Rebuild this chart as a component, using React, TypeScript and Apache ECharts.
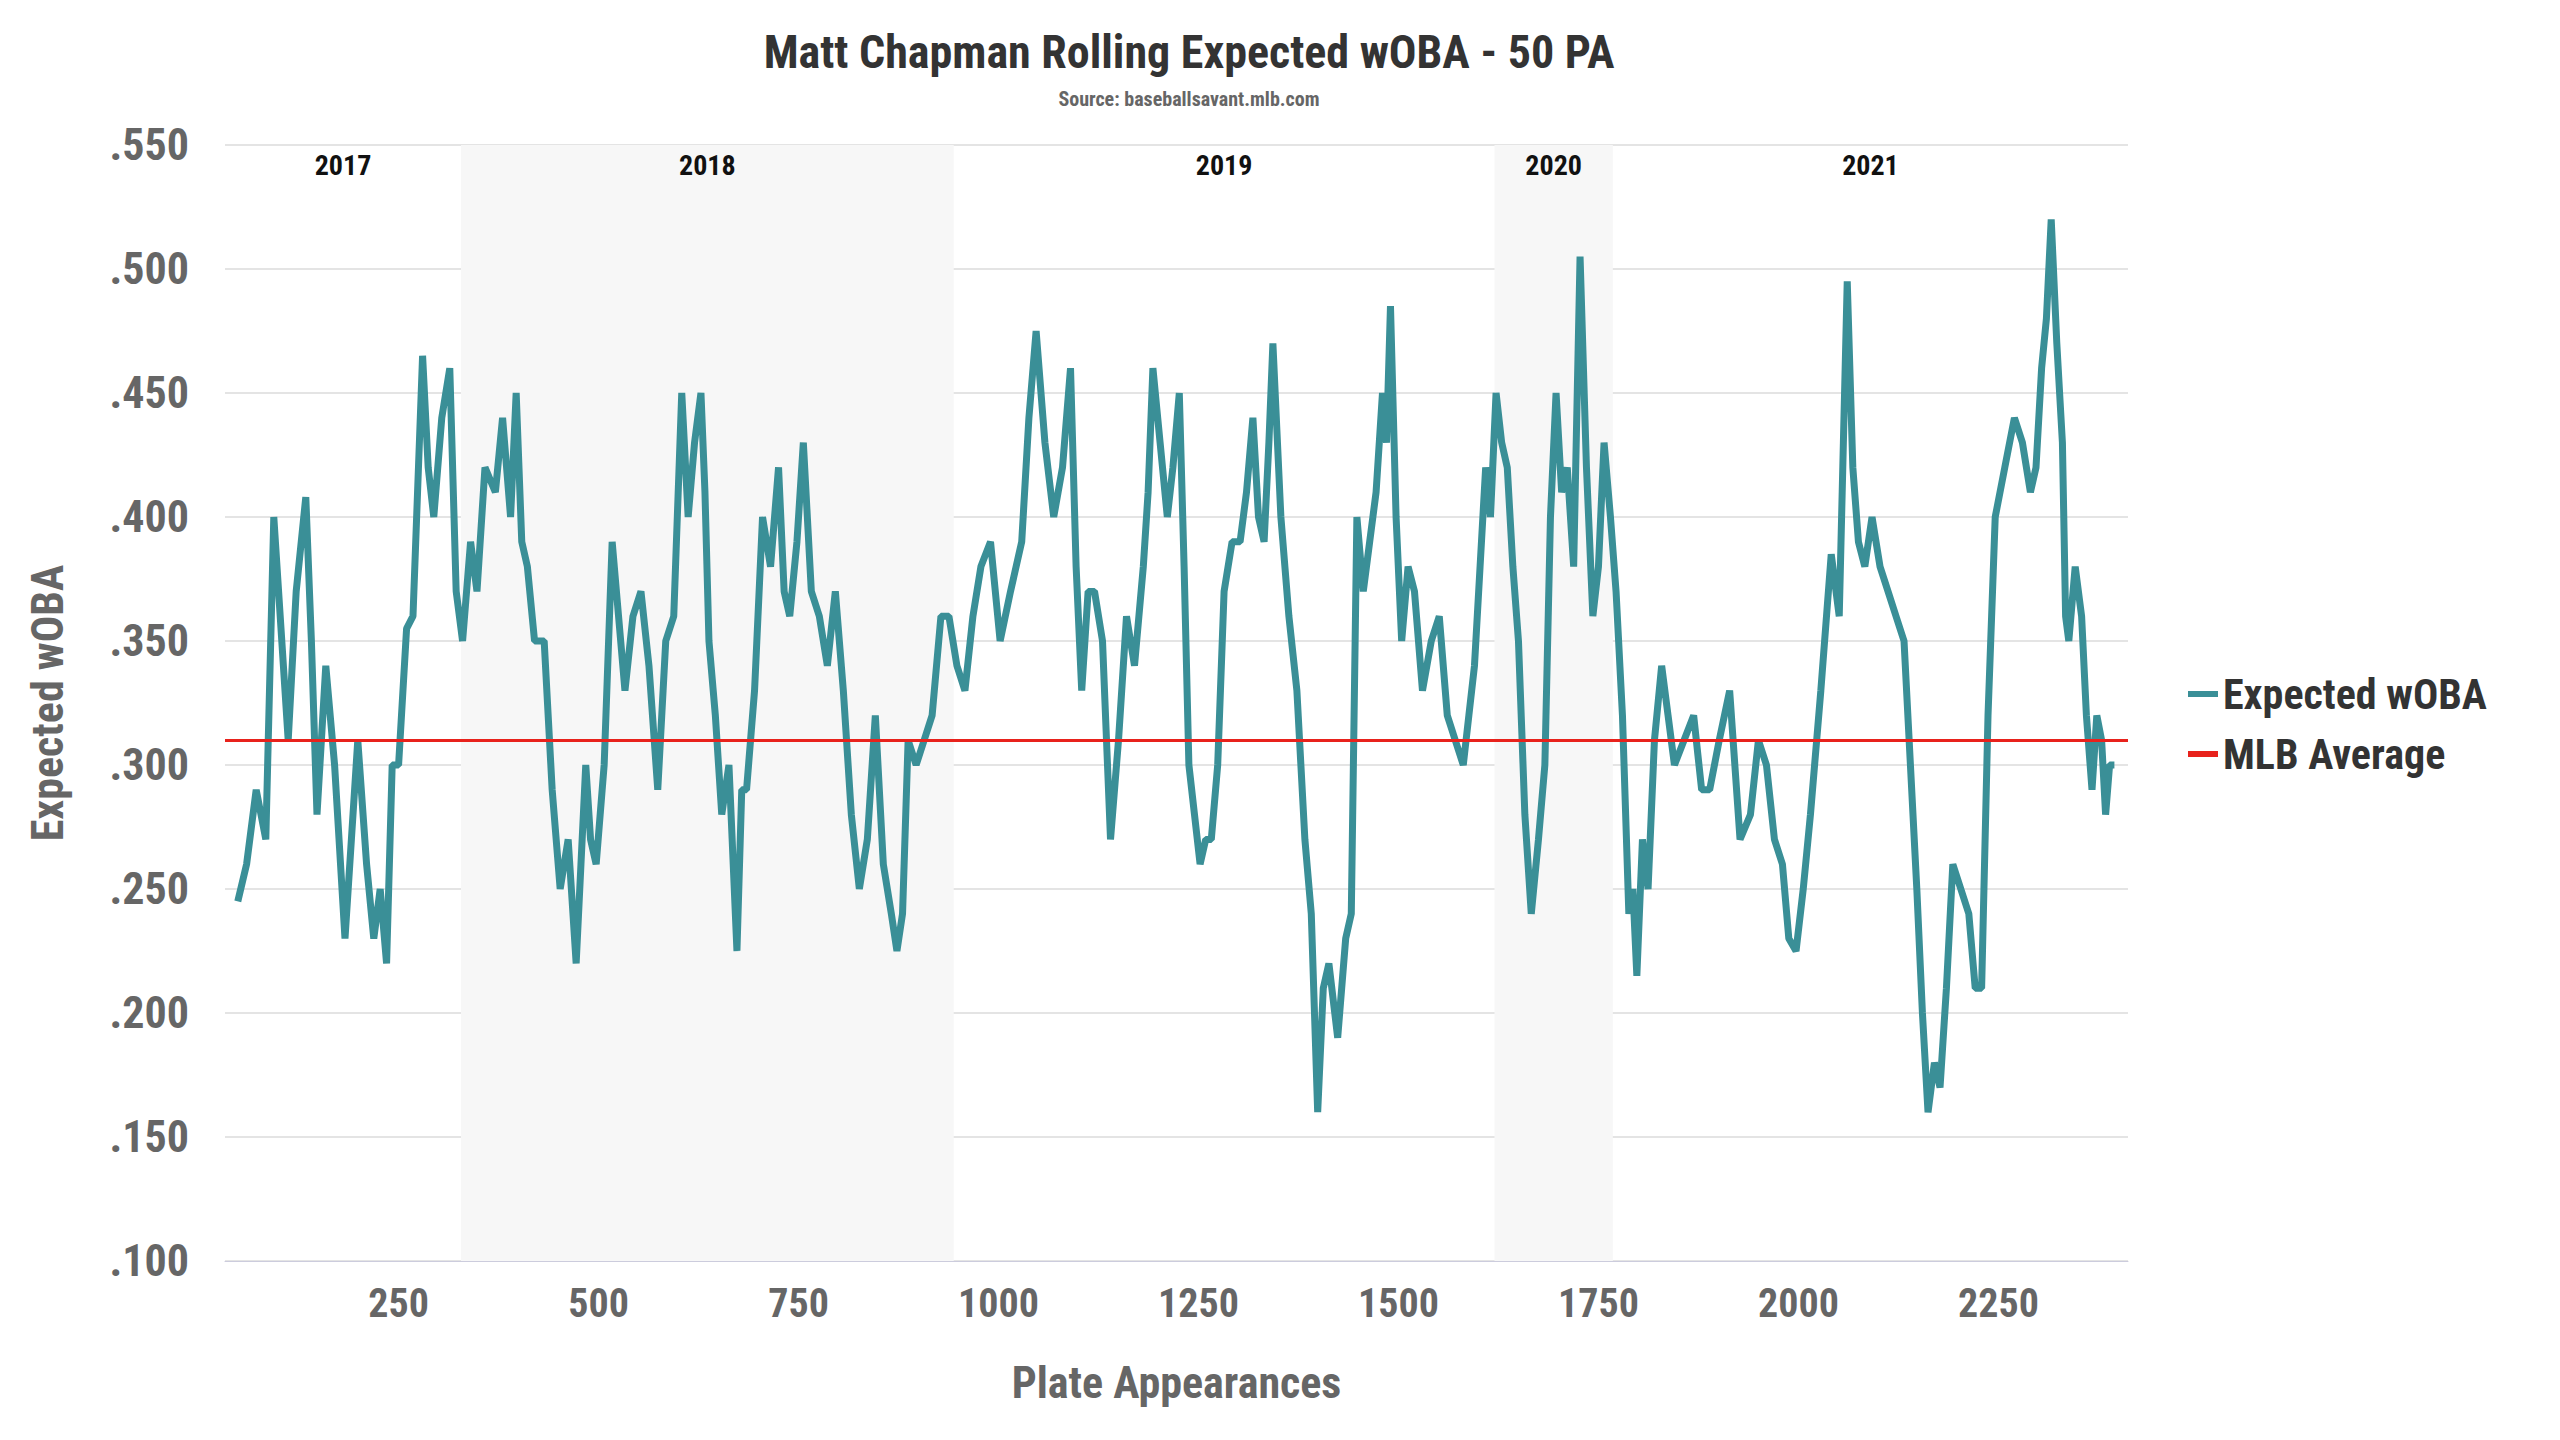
import React, { useEffect, useRef } from "react";
import * as echarts from "echarts";

const paValues = [49,60,72,84,94,104,112,122,134,141,148,159,170,183,191,199,210,219,227,235,242,250,260,268,280,287,294,304,314,322,330,340,348,358,371,380,390,397,404,411,420,432,442,452,462,472,478,484,490,497,507,517,525,533,543,553,563,574,584,594,604,612,620,628,633,638,646,654,663,673,679,685,695,705,715,725,732,739,748,756,766,776,786,796,806,816,826,836,846,856,866,873,880,887,897,907,917,928,938,948,958,968,978,990,1002,1015,1029,1038,1047,1058,1069,1080,1090,1097,1104,1112,1120,1130,1140,1150,1160,1170,1181,1187,1193,1202,1211,1218,1226,1232,1238,1245,1252,1259,1266,1274,1282,1292,1302,1310,1318,1325,1332,1338,1343,1353,1363,1373,1383,1391,1399,1406,1413,1424,1434,1441,1448,1456,1464,1472,1480,1485,1490,1497,1504,1512,1520,1530,1541,1551,1561,1571,1581,1588,1595,1602,1609,1615,1622,1629,1636,1643,1650,1658,1666,1675,1683,1690,1697,1704,1711,1719,1727,1735,1743,1750,1757,1765,1772,1780,1788,1793,1798,1805,1812,1820,1829,1837,1845,1857,1869,1879,1889,1901,1914,1927,1940,1950,1960,1970,1980,1988,1997,2006,2015,2028,2041,2051,2061,2068,2075,2083,2092,2102,2112,2122,2132,2140,2148,2155,2162,2170,2177,2185,2193,2203,2213,2221,2229,2237,2246,2258,2270,2280,2290,2297,2304,2310,2316,2323,2330,2334,2338,2346,2354,2360,2367,2373,2379,2384,2389,2395,2400];
const xwobaValues = [.245,.26,.29,.27,.40,.35,.31,.37,.408,.35,.28,.34,.30,.23,.27,.31,.26,.23,.25,.22,.30,.30,.355,.36,.465,.42,.40,.44,.46,.37,.35,.39,.37,.42,.41,.44,.40,.45,.39,.38,.35,.35,.29,.25,.27,.22,.26,.30,.27,.26,.30,.39,.36,.33,.36,.37,.34,.29,.35,.36,.45,.40,.43,.45,.41,.35,.32,.28,.30,.225,.29,.29,.33,.40,.38,.42,.37,.36,.39,.43,.37,.36,.34,.37,.33,.28,.25,.27,.32,.26,.24,.225,.24,.31,.30,.31,.32,.36,.36,.34,.33,.36,.38,.39,.35,.37,.39,.44,.475,.43,.40,.42,.46,.38,.33,.37,.37,.35,.27,.31,.36,.34,.38,.41,.46,.43,.40,.42,.45,.38,.30,.28,.26,.27,.27,.30,.37,.39,.39,.41,.44,.40,.39,.43,.47,.40,.36,.33,.27,.24,.16,.21,.22,.19,.23,.24,.40,.37,.39,.41,.45,.43,.485,.40,.35,.38,.37,.33,.35,.36,.32,.31,.30,.32,.34,.38,.42,.40,.45,.43,.42,.38,.35,.28,.24,.27,.30,.40,.45,.41,.42,.38,.505,.42,.36,.38,.43,.40,.37,.32,.24,.25,.215,.27,.25,.31,.34,.32,.30,.31,.32,.29,.29,.31,.33,.27,.28,.31,.30,.27,.26,.23,.225,.25,.28,.33,.385,.36,.495,.42,.39,.38,.40,.38,.37,.36,.35,.30,.25,.20,.16,.18,.17,.21,.26,.25,.24,.21,.21,.32,.40,.42,.44,.43,.41,.42,.46,.48,.52,.47,.43,.36,.35,.38,.36,.32,.29,.32,.31,.28,.30,.30];

const yearLabels = ["2017", "2018", "2019", "2020", "2021"];
const yearStarts = [33, 328, 944, 1620, 1768];
const yearEnds = [328, 944, 1620, 1768, 2412];
const yearShaded = [false, true, false, true, false];
const xTicks = [250, 500, 750, 1000, 1250, 1500, 1750, 2000, 2250];
const mlbAverage = 0.31;

const FONT = "'Roboto Condensed', 'Liberation Sans Narrow', 'Roboto', sans-serif";

export default function App() {
  const ref = useRef<HTMLDivElement>(null);
  useEffect(() => {
    const chart = echarts.init(ref.current!, null, { renderer: "svg" });
    const data = paValues.map((p, i) => [p, xwobaValues[i]]);
    const fmt = (v: number) => v.toFixed(3).replace(/^0/, "");
    chart.setOption({
      animation: false,
      textStyle: { fontFamily: FONT },
      title: {
        text: "Matt Chapman Rolling Expected wOBA - 50 PA",
        subtext: "Source: baseballsavant.mlb.com",
        left: 1176, textAlign: "center", top: 16,
        textStyle: { fontFamily: FONT, fontSize: 46, fontWeight: "bold", color: "#333" },
        subtextStyle: { fontFamily: FONT, fontSize: 20, fontWeight: "bold", color: "#666" },
        itemGap: 14,
      },
      legend: {
        orient: "vertical", left: 2175, top: 660, itemGap: 18,
        itemWidth: 30, itemHeight: 6,
        textStyle: { fontFamily: FONT, fontSize: 42, fontWeight: "bold", color: "#333" },
        data: [
          { name: "Expected wOBA", icon: "rect" },
          { name: "MLB Average", icon: "rect" },
        ],
      },
      grid: { left: 217, right: 424, top: 137, bottom: 171 },
      xAxis: {
        type: "value", min: 33, max: 2412,
        name: "Plate Appearances", nameLocation: "middle", nameGap: 100,
        nameTextStyle: { fontFamily: FONT, fontSize: 44, fontWeight: "bold", color: "#666" },
        axisLine: { show: true, lineStyle: { color: "#ccd" } },
        axisTick: { show: false },
        splitLine: { show: false },
        axisLabel: { customValues: xTicks, formatter: (v: number) => String(v), fontSize: 40, fontWeight: "bold", color: "#666", margin: 22 },
      },
      yAxis: {
        type: "value", min: 0.1, max: 0.55, interval: 0.05,
        name: "Expected wOBA", nameLocation: "middle", nameGap: 155,
        nameTextStyle: { fontFamily: FONT, fontSize: 44, fontWeight: "bold", color: "#666" },
        axisLine: { show: false }, axisTick: { show: false },
        splitLine: { lineStyle: { color: "#e4e4e4", width: 2 } },
        axisLabel: { formatter: fmt, fontSize: 44, fontWeight: "bold", color: "#666", margin: 36 },
      },
      series: [
        {
          name: "Expected wOBA", type: "line", data, showSymbol: false,
          lineStyle: { color: "#3a8f97", width: 7 }, itemStyle: { color: "#3a8f97" },
          z: 3,
          markArea: {
            silent: true,
            data: yearLabels.map((y, i) => [
              {
                name: y, xAxis: yearStarts[i], yAxis: 0.55,
                itemStyle: { color: yearShaded[i] ? "#f7f7f7" : "rgba(0,0,0,0)" },
                label: { show: true, position: "insideTop", distance: 6, fontFamily: FONT, fontSize: 28, fontWeight: "bold", color: "#111" },
              },
              { xAxis: yearEnds[i], yAxis: 0.1 },
            ]),
          },
        },
        {
          name: "MLB Average", type: "line", data: [], itemStyle: { color: "#e8221c" },
          lineStyle: { color: "#e8221c", width: 3 },
          markLine: {
            silent: true, symbol: "none", label: { show: false },
            lineStyle: { color: "#e8221c", width: 3, type: "solid" },
            data: [{ yAxis: mlbAverage }],
          },
        },
      ],
    });
    return () => chart.dispose();
  }, []);
  return <div ref={ref} style={{ width: 2544, height: 1424 }} />;
}
